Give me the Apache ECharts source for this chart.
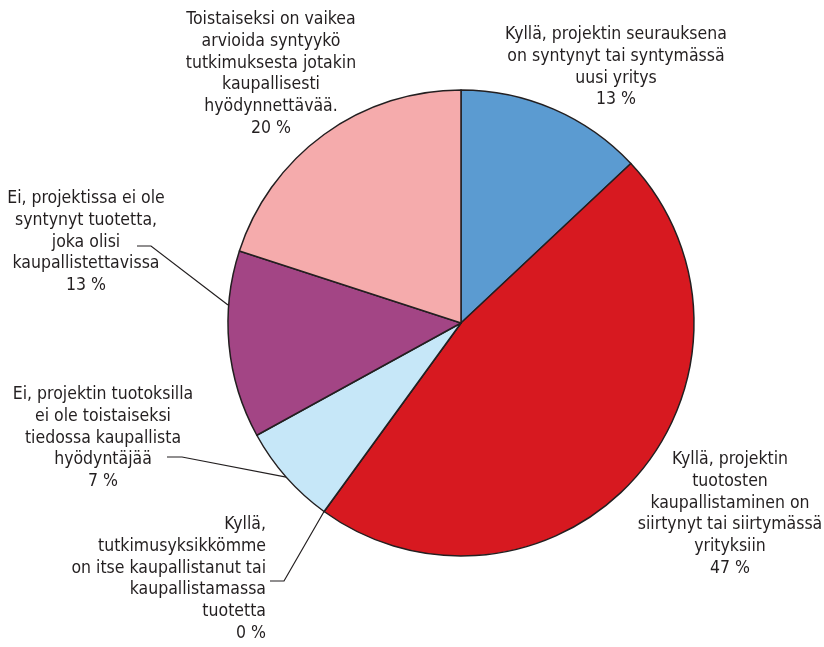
<!DOCTYPE html>
<html>
<head>
<meta charset="utf-8">
<script src="https://cdn.jsdelivr.net/npm/echarts@6/dist/echarts.min.js"></script>
<style>
  html, body { margin: 0; padding: 0; background: #fff; }
  #chart { width: 824px; height: 647px; }
</style>
</head>
<body>
<div id="chart"></div>
<script>
// luokat myötäpäivään ylhäältä alkaen
var categories = [
    'Kyllä, projektin seurauksena\non syntynyt tai syntymässä\nuusi yritys',
    'Kyllä, projektin\ntuotosten\nkaupallistaminen on\nsiirtynyt tai siirtymässä\nyrityksiin',
    'Kyllä,\ntutkimusyksikkömme\non itse kaupallistanut tai\nkaupallistamassa\ntuotetta',
    'Ei, projektin tuotoksilla\nei ole toistaiseksi\ntiedossa kaupallista\nhyödyntäjää',
    'Ei, projektissa ei ole\nsyntynyt tuotetta,\njoka olisi\nkaupallistettavissa',
    'Toistaiseksi on vaikea\narvioida syntyykö\ntutkimuksesta jotakin\nkaupallisesti\nhyödynnettävää.'
];
var values = [13, 47, 0, 7, 13, 20];
var colors = ['#5b9bd1', '#d71920', '#d71920', '#c6e7f8', '#a34585', '#f5abac'];

// tekstien paikat (layout)
var labelPos = [
    { x: 616, y: 24, align: 'center' },
    { x: 730, y: 449, align: 'center' },
    { x: 266, y: 514, align: 'right' },
    { x: 103, y: 384, align: 'center' },
    { x: 86, y: 188, align: 'center' },
    { x: 271, y: 9, align: 'center' }
];
// viivojen kulmapisteet
var leaderElbow = {
    2: [[284, 581], [270, 581]],
    3: [[182, 457], [167, 457]],
    4: [[151, 246], [137, 246]]
};
var leaderStart = { 4: [228, 305] };

var chart = echarts.init(document.getElementById('chart'));

var data = values.map(function (v, i) {
    return {
        name: categories[i],
        value: v,
        itemStyle: { color: colors[i] },
        labelLine: { show: !!leaderElbow[i] }
    };
});

chart.setOption({
    backgroundColor: '#fff',
    animation: false,
    series: [{
        type: 'pie',
        center: [461, 323],
        radius: 233,
        startAngle: 90,
        clockwise: true,
        data: data,
        itemStyle: { borderColor: '#231f20', borderWidth: 1.5 },
        emphasis: { disabled: true },
        label: {
            show: true,
            position: 'outside',
            formatter: '{b}\n{c} %',
            fontFamily: '"Liberation Sans Narrow", "DejaVu Sans Condensed", sans-serif',
            fontSize: 17.5,
            lineHeight: 21.7,
            color: '#231f20',
            overflow: 'none',
            width: 300
        },
        labelLine: {
            show: true,
            length: 10,
            length2: 10,
            lineStyle: { color: '#231f20', width: 1.2 }
        },
        labelLayout: function (params) {
            var i = params.dataIndex;
            var p = labelPos[i];
            var out = { x: p.x, y: p.y, align: p.align, verticalAlign: 'top', hideOverlap: false, moveOverlap: false };
            if (leaderElbow[i]) {
                var start = leaderStart[i] || (params.labelLinePoints && params.labelLinePoints[0]) || [0, 0];
                out.labelLinePoints = [start, leaderElbow[i][0], leaderElbow[i][1]];
            }
            return out;
        }
    }]
});
</script>
</body>
</html>
